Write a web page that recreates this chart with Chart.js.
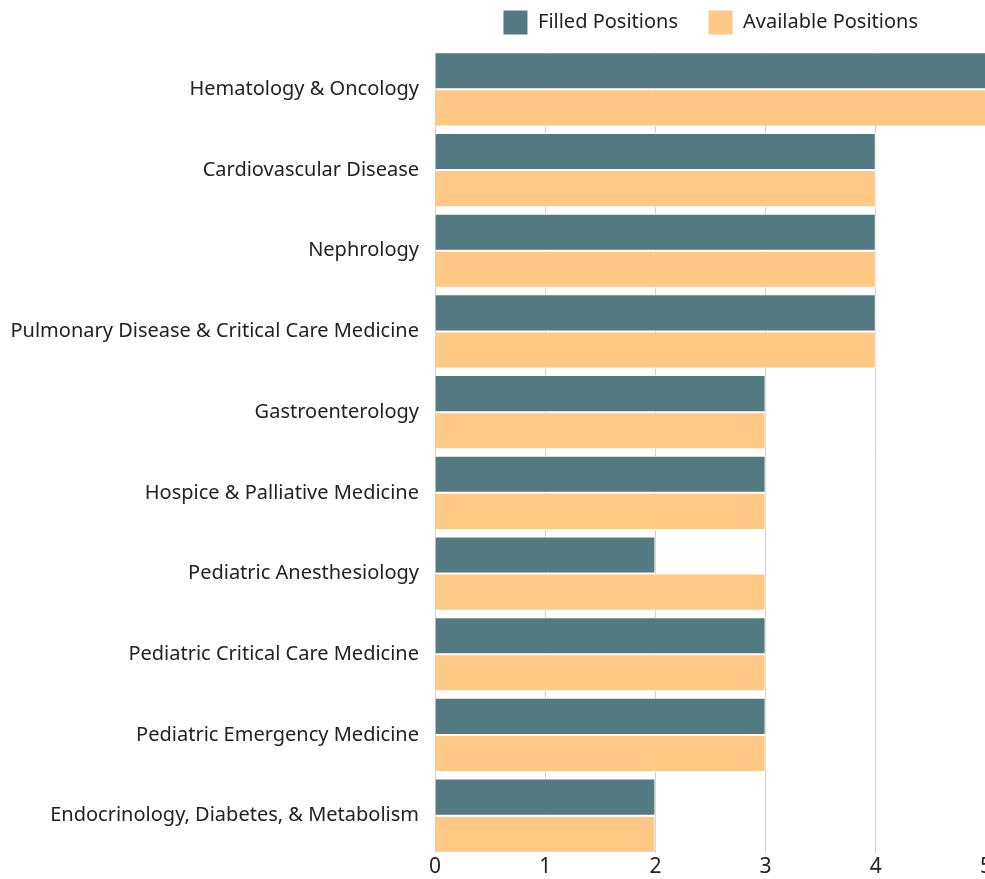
<!DOCTYPE html>
<html>
<head>
<meta charset="utf-8">
<script src="https://cdn.jsdelivr.net/npm/chart.js@4/dist/chart.umd.min.js"></script>
<style>
    html, body { margin: 0; padding: 0; background: #fff; overflow: hidden; }
    #wrap { position: relative; width: 993px; height: 879px; }
</style>
</head>
<body>
<div id="wrap"><canvas id="fellowship-chart"></canvas></div>
<script>
const specialties = [
    'Hematology & Oncology',
    'Cardiovascular Disease',
    'Nephrology',
    'Pulmonary Disease & Critical Care Medicine',
    'Gastroenterology',
    'Hospice & Palliative Medicine',
    'Pediatric Anesthesiology',
    'Pediatric Critical Care Medicine',
    'Pediatric Emergency Medicine',
    'Endocrinology, Diabetes, & Metabolism',
];
const filledPositions = [5, 4, 4, 4, 3, 3, 2, 3, 3, 2];
const availablePositions = [5, 4, 4, 4, 3, 3, 3, 3, 3, 2];
const xTicks = [0, 1, 2, 3, 4, 5];

const fontFamily = "'Noto Sans', sans-serif";
const categoryPct = 0.92;

// legend: a bit more room under it
const legendSpacer = {
    id: 'legendSpacer',
    afterInit(chart) {
        const fit = chart.legend.fit;
        chart.legend.fit = function () {
            fit.call(this);
            this.height += 4;
        };
    },
};

// grid lines should stop where the first/last bars do
const trimGrid = {
    id: 'trimGrid',
    beforeDatasetsDraw(chart) {
        const {ctx, chartArea} = chart;
        const pitch = chartArea.height / specialties.length;
        const gap = Math.floor(pitch * (1 - categoryPct) / 2);
        ctx.save();
        ctx.fillStyle = '#ffffff';
        ctx.fillRect(chartArea.left, chartArea.top - 1, chartArea.width + 2, gap + 1);
        ctx.fillRect(chartArea.left, chartArea.bottom - gap, chartArea.width + 2, gap + 1);
        ctx.restore();
    },
};

const ctx = document.getElementById('fellowship-chart').getContext('2d');
new Chart(ctx, {
    type: 'bar',
    data: {
        labels: specialties,
        datasets: [{
            label: 'Filled Positions',
            data: filledPositions,
            backgroundColor: '#537a80',
            borderColor: '#ffffff',
            borderWidth: 1,
        }, {
            label: 'Available Positions',
            data: availablePositions,
            backgroundColor: '#ffc885',
            borderColor: '#ffffff',
            borderWidth: 1,
        }],
    },
    options: {
        indexAxis: 'y',
        responsive: true,
        maintainAspectRatio: false,
        animation: false,
        layout: { padding: 0 },
        datasets: {
            bar: { categoryPercentage: categoryPct, barPercentage: 1.0 },
        },
        plugins: {
            legend: {
                position: 'top',
                fullSize: false,
                labels: {
                    boxWidth: 25,
                    boxHeight: 25,
                    padding: 10,
                    color: '#222',
                    font: { family: fontFamily, size: 20 },
                    generateLabels(chart) {
                        const items = Chart.defaults.plugins.legend.labels.generateLabels(chart);
                        items[0].text += '\u2003';
                        return items;
                    },
                },
            },
            tooltip: { enabled: false },
        },
        scales: {
            x: {
                min: xTicks[0],
                max: xTicks[xTicks.length - 1],
                ticks: { stepSize: 1, color: '#222', font: { family: fontFamily, size: 21, lineHeight: 1 }, padding: 1 },
                grid: { color: '#d0d0d0', drawTicks: false },
                border: { display: false },
            },
            y: {
                ticks: { color: '#222', font: { family: fontFamily, size: 20 }, padding: 8 },
                grid: { display: false },
                border: { display: false },
                afterFit(scale) { scale.width = 435; },
            },
        },
    },
    plugins: [legendSpacer, trimGrid],
});
</script>
</body>
</html>
